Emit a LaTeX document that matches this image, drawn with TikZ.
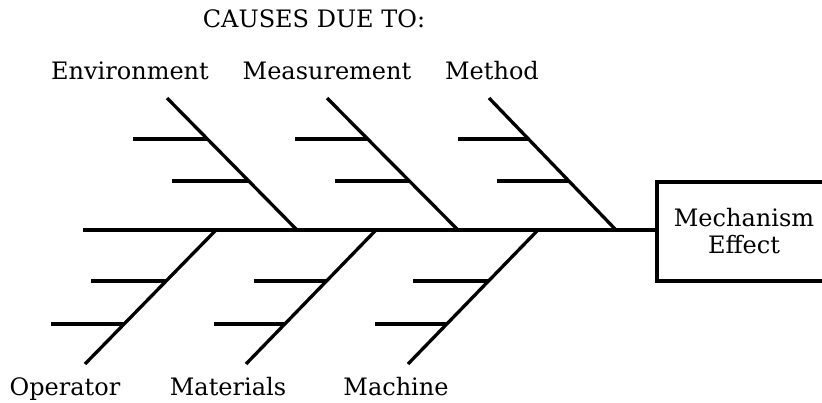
\documentclass[tikz,border=0pt]{standalone}
\usepackage{fontspec}
\setmainfont{DejaVu Serif}
\begin{document}
\begin{tikzpicture}[x=1pt,y=-1pt,
  bone/.style={line width=3.3pt},
  lbl/.style={anchor=base,inner sep=0pt,font=\fontsize{24}{27}\selectfont},
  effbox/.style={draw,line width=3.3pt,minimum width=174pt,minimum height=99pt,align=center,font=\fontsize{24}{27}\selectfont}]
\useasboundingbox (0,0) rectangle (822,402);
% labels
\node[lbl] (causes) at (314,27) {CAUSES DUE TO:};
\node[lbl] (env) at (130,79) {Environment};
\node[lbl] (meas) at (327,79) {Measurement};
\node[lbl] (meth) at (492,79) {Method};
\node[lbl] (oper) at (65,395) {Operator};
\node[lbl] (mat) at (228,395) {Materials};
\node[lbl] (mach) at (396,395) {Machine};
\node[effbox] (effect) at (744,231.5) {Mechanism\\Effect};
% spine
\coordinate (tail) at (83,230);
\draw[bone] (tail) -- (tail -| effect.west);
% upper bones
\coordinate (E1) at (167,98);  \coordinate (E2) at (297,230);
\coordinate (M1) at (327,98);  \coordinate (M2) at (458,230);
\coordinate (T1) at (489,98);  \coordinate (T2) at (616,230);
\draw[bone] (E1) -- (E2);
\draw[bone] (M1) -- (M2);
\draw[bone] (T1) -- (T2);
\coordinate (e1) at (133,139); \coordinate (e1b) at (207.4,139);
\coordinate (e2) at (172,181); \coordinate (e2b) at (248.7,181);
\coordinate (m1) at (295,139); \coordinate (m1b) at (367.7,139);
\coordinate (m2) at (335,181); \coordinate (m2b) at (409.4,181);
\coordinate (t1) at (458,139); \coordinate (t1b) at (528.4,139);
\coordinate (t2) at (497,181); \coordinate (t2b) at (568.9,181);
\foreach \a in {e1,e2,m1,m2,t1,t2} \draw[bone] (\a) -- (\a b);
% lower bones
\coordinate (O1) at (216,230); \coordinate (O2) at (85,364);
\coordinate (A1) at (376,230); \coordinate (A2) at (246,364);
\coordinate (C1) at (538,230); \coordinate (C2) at (408,364);
\draw[bone] (O1) -- (O2);
\draw[bone] (A1) -- (A2);
\draw[bone] (C1) -- (C2);
\coordinate (o1) at (91,281);  \coordinate (o1b) at (166.1,281);
\coordinate (o2) at (51,324);  \coordinate (o2b) at (124.1,324);
\coordinate (a1) at (254,281); \coordinate (a1b) at (326.5,281);
\coordinate (a2) at (214,324); \coordinate (a2b) at (284.8,324);
\coordinate (c1) at (413,281); \coordinate (c1b) at (488.5,281);
\coordinate (c2) at (375,324); \coordinate (c2b) at (446.8,324);
\foreach \a in {o1,o2,a1,a2,c1,c2} \draw[bone] (\a) -- (\a b);
\end{tikzpicture}
\end{document}
